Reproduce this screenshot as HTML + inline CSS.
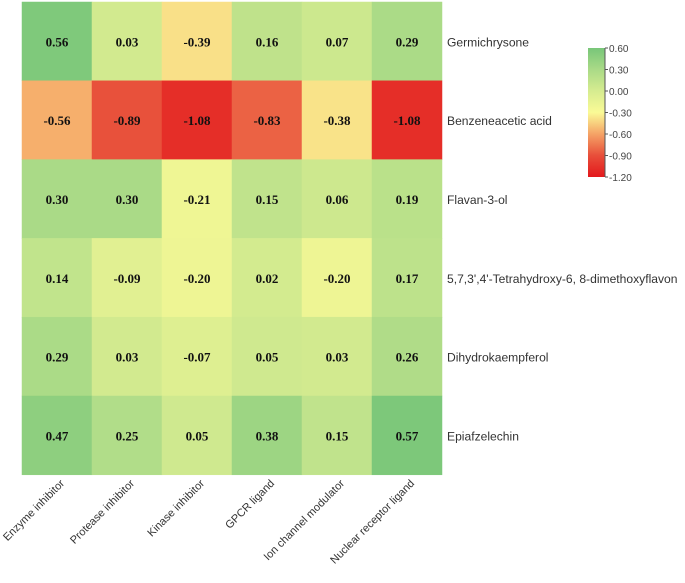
<!DOCTYPE html>
<html><head><meta charset="utf-8"><style>
body{margin:0;background:#fff;}
svg{display:block;}
</style></head><body>
<svg id="chart" width="685" height="583" xmlns="http://www.w3.org/2000/svg">
<g id="cells"></g><g id="rowlabels"></g><g id="collabels"></g><g id="legend"></g>
</svg>
<script>
const columns = ["Enzyme inhibitor","Protease inhibitor","Kinase inhibitor","GPCR ligand","Ion channel modulator","Nuclear receptor ligand"];
const rows = ["Germichrysone","Benzeneacetic acid","Flavan-3-ol","5,7,3',4'-Tetrahydroxy-6, 8-dimethoxyflavon","Dihydrokaempferol","Epiafzelechin"];
const values = [
 [0.56,0.03,-0.39,0.16,0.07,0.29],
 [-0.56,-0.89,-1.08,-0.83,-0.38,-1.08],
 [0.30,0.30,-0.21,0.15,0.06,0.19],
 [0.14,-0.09,-0.20,0.02,-0.20,0.17],
 [0.29,0.03,-0.07,0.05,0.03,0.26],
 [0.47,0.25,0.05,0.38,0.15,0.57]
];
const legendTicks = [0.6,0.3,0,-0.3,-0.6,-0.9,-1.2];
const stops=[[0.6,[120,198,121]],[0.3,[170,218,135]],[0,[214,236,144]],[-0.3,[250,250,150]],[-0.6,[245,163,102]],[-0.9,[232,78,58]],[-1.2,[227,24,28]]];
function color(v){
  for(let i=0;i<stops.length-1;i++){
    const a=stops[i],b=stops[i+1];
    if(v<=a[0]&&v>=b[0]||i==stops.length-2){
      let t=(a[0]-v)/(a[0]-b[0]);t=Math.max(0,Math.min(1,t));
      const c=a[1].map((x,k)=>Math.round(x+(b[1][k]-x)*t));
      return `rgb(${c.join(',')})`;
    }
  }
  return `rgb(${stops[0][1].join(',')})`;
}
const NS="http://www.w3.org/2000/svg";
const X0=22,Y0=2,CW=70,RH=78.8;
const xs=i=>X0+i*CW, ys=j=>Y0+j*RH;
function mk(t,attrs,parent){const e=document.createElementNS(NS,t);for(const k in attrs)e.setAttribute(k,attrs[k]);parent.appendChild(e);return e;}
const cells=document.getElementById('cells');
rows.forEach((r,j)=>{columns.forEach((c,i)=>{
  const v=values[j][i];
  const rect=mk('rect',{x:xs(i),y:ys(j),width:CW,height:RH,fill:color(v),stroke:color(v),'stroke-width':0.5},cells);
  
  
  const t=mk('text',{x:xs(i)+CW/2,y:ys(j)+RH/2+5,'text-anchor':'middle','font-family':'Liberation Serif, serif','font-weight':'bold','font-size':13,fill:'#111'},cells);
  t.textContent=v.toFixed(2);
  
  
});});
const rl=document.getElementById('rowlabels');
rows.forEach((r,j)=>{
  const t=mk('text',{x:447,y:ys(j)+RH/2+5,'font-family':'Liberation Sans, sans-serif','font-size':12.1,fill:'#333'},rl);
  t.textContent=r;
  
  
});
const cl=document.getElementById('collabels');
columns.forEach((c,i)=>{
  const x=xs(i)+CW/2+8,y=484;
  const t=mk('text',{x:x,y:y,'text-anchor':'end','transform':`rotate(-45 ${x} ${y})`,'font-family':'Liberation Sans, sans-serif','font-size':11,fill:'#333'},cl);
  t.textContent=c;
  
  
});
const lg=document.getElementById('legend');
const LX=588,LY0=48,LY1=177,LW=17;
const ly=v=>LY0+(0.6-v)/1.8*(LY1-LY0);
const defs=mk('defs',{},lg);
const grad=mk('linearGradient',{id:'lgrad',x1:0,y1:0,x2:0,y2:1},defs);
stops.forEach(s=>{mk('stop',{offset:((0.6-s[0])/1.8*100)+'%','stop-color':`rgb(${s[1].join(',')})`},grad);});
const bar=mk('rect',{x:LX,y:LY0,width:LW,height:LY1-LY0,fill:'url(#lgrad)'},lg);


mk('line',{x1:LX+LW,y1:LY0,x2:LX+LW,y2:LY1,stroke:'#555','stroke-width':1},lg);
legendTicks.forEach(v=>{
  mk('line',{x1:LX+LW,y1:ly(v),x2:LX+LW+3,y2:ly(v),stroke:'#555','stroke-width':1},lg);
  const t=mk('text',{x:LX+LW+4,y:ly(v)+4,'font-family':'Liberation Sans, sans-serif','font-size':10,fill:'#444'},lg);
  t.textContent=v.toFixed(2);
  
  
});
</script>
</body></html>
